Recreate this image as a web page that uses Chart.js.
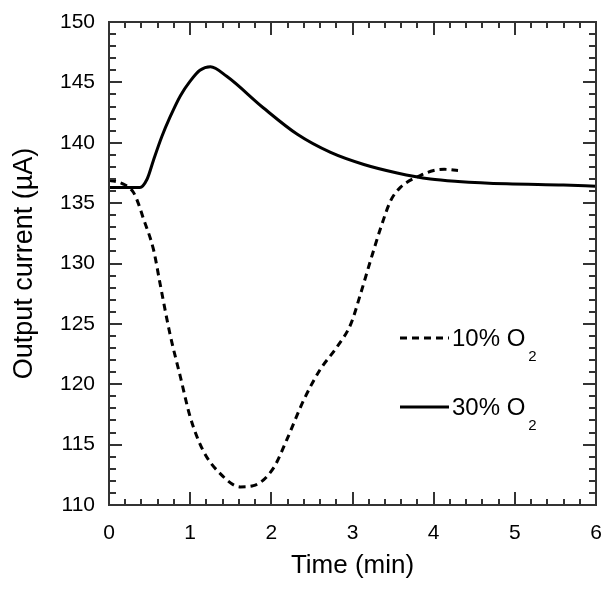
<!DOCTYPE html>
<html>
<head>
<meta charset="utf-8">
<script src="https://cdn.jsdelivr.net/npm/chart.js@4.4.1/dist/chart.umd.min.js"></script>
<style>
  body { margin: 0; background: #fff; }
  canvas { display: block; }
</style>
</head>
<body>
<canvas id="chart" width="614" height="589"></canvas>
<script>
// time (min) and output current (uA)
const time10 = [0, 0.17, 0.3, 0.36, 0.42, 0.55, 0.63, 0.75, 0.88, 1.0, 1.16, 1.37, 1.62, 1.78, 2.03, 2.19, 2.4, 2.6, 2.81, 2.98, 3.1, 3.22, 3.35, 3.47, 3.59, 3.84, 4.0, 4.13, 4.3];
const curr10 = [136.9, 136.6, 135.9, 135.0, 133.8, 131.1, 128.3, 124.2, 120.6, 117.3, 114.5, 112.6, 111.5, 111.6, 113.1, 115.4, 118.7, 121.2, 123.1, 125.0, 127.5, 130.2, 133.0, 135.2, 136.3, 137.3, 137.7, 137.8, 137.7];

const time30 = [0, 0.2, 0.38, 0.47, 0.55, 0.65, 0.75, 0.88, 1.0, 1.12, 1.25, 1.45, 1.9, 2.32, 2.73, 3.14, 3.55, 3.96, 4.3, 4.9, 5.6, 6.0];
const curr30 = [136.3, 136.3, 136.3, 137.0, 138.6, 140.5, 142.1, 143.9, 145.1, 146.0, 146.3, 145.5, 142.9, 140.7, 139.2, 138.2, 137.5, 137.0, 136.8, 136.6, 136.5, 136.4];

const seriesLabels = ['10% O', '30% O'];
const xTicks = [0, 1, 2, 3, 4, 5, 6];
const yTicks = [110, 115, 120, 125, 130, 135, 140, 145, 150];

const toPoints = (xs, ys) => xs.map((x, i) => ({ x: x, y: ys[i] }));

// frame, inward ticks on all four sides, and the in-plot legend
const framePlugin = {
    id: 'frame',
    afterDraw(chart) {
        const ctx = chart.ctx;
        const a = chart.chartArea;
        const xs = chart.scales.x, ys = chart.scales.y;
        ctx.save();
        ctx.strokeStyle = '#333';
        ctx.lineWidth = 2;
        ctx.strokeRect(a.left, a.top, a.right - a.left, a.bottom - a.top);

        ctx.beginPath();
        for (let i = 0; i <= 30; i++) {
            const v = xs.min + i * 0.2;
            const px = Math.round(xs.getPixelForValue(v));
            const len = i % 5 === 0 ? 13 : 6;
            ctx.moveTo(px, a.bottom); ctx.lineTo(px, a.bottom - len);
            ctx.moveTo(px, a.top); ctx.lineTo(px, a.top + len);
        }
        for (let i = 0; i <= 40; i++) {
            const v = ys.min + i;
            const py = Math.round(ys.getPixelForValue(v));
            const len = i % 5 === 0 ? 13 : 7;
            ctx.moveTo(a.left, py); ctx.lineTo(a.left + len, py);
            ctx.moveTo(a.right, py); ctx.lineTo(a.right - len, py);
        }
        ctx.stroke();

        // legend
        const rows = [338, 407];
        chart.data.datasets.forEach((ds, i) => {
            const y = rows[i];
            ctx.strokeStyle = '#000';
            ctx.lineWidth = 3;
            ctx.setLineDash(ds.borderDash || []);
            ctx.beginPath();
            ctx.moveTo(400, y); ctx.lineTo(449, y);
            ctx.stroke();
            ctx.setLineDash([]);
            ctx.fillStyle = '#000';
            ctx.textBaseline = 'middle';
            ctx.font = '24px "Liberation Sans", Arial, sans-serif';
            ctx.fillText(ds.label, 452, y + 1);
            const w = ctx.measureText(ds.label).width;
            ctx.font = '15px "Liberation Sans", Arial, sans-serif';
            ctx.fillText('2', 452 + w + 3, y + 19);
        });
        ctx.restore();
    }
};

new Chart(document.getElementById('chart'), {
    type: 'line',
    data: {
        datasets: [
            {
                label: seriesLabels[0],
                data: toPoints(time10, curr10),
                borderColor: '#000',
                borderWidth: 3,
                borderDash: [7, 5],
                pointRadius: 0,
                cubicInterpolationMode: 'monotone',
                fill: false
            },
            {
                label: seriesLabels[1],
                data: toPoints(time30, curr30),
                borderColor: '#000',
                borderWidth: 3,
                pointRadius: 0,
                cubicInterpolationMode: 'monotone',
                fill: false
            }
        ]
    },
    options: {
        responsive: false,
        animation: false,
        devicePixelRatio: 1,
        layout: { padding: { top: 22, right: 18, left: 0, bottom: 0 } },
        plugins: { legend: { display: false }, tooltip: { enabled: false } },
        scales: {
            x: {
                type: 'linear',
                min: 0,
                max: 6,
                afterBuildTicks: s => { s.ticks = xTicks.map(v => ({ value: v })); },
                afterFit: s => { s.height = 84; s.paddingLeft = 0; s.paddingRight = 0; },
                grid: { display: false, drawTicks: false },
                border: { display: false },
                ticks: {
                    color: '#000',
                    padding: 16,
                    font: { family: '"Liberation Sans", Arial, sans-serif', size: 21 }
                },
                title: {
                    display: true,
                    text: 'Time (min)',
                    color: '#000',
                    padding: { top: 0, bottom: 8 },
                    font: { family: '"Liberation Sans", Arial, sans-serif', size: 26 }
                }
            },
            y: {
                type: 'linear',
                min: 110,
                max: 150,
                afterBuildTicks: s => { s.ticks = yTicks.map(v => ({ value: v })); },
                afterFit: s => { s.width = 109; s.paddingTop = 0; s.paddingBottom = 0; },
                grid: { display: false, drawTicks: false },
                border: { display: false },
                ticks: {
                    color: '#000',
                    padding: 14,
                    font: { family: '"Liberation Sans", Arial, sans-serif', size: 21 }
                },
                title: {
                    display: true,
                    text: 'Output current (\u00b5A)',
                    color: '#000',
                    padding: { top: 8, bottom: 0 },
                    font: { family: '"Liberation Sans", Arial, sans-serif', size: 27 }
                }
            }
        }
    },
    plugins: [framePlugin]
});
</script>
</body>
</html>
